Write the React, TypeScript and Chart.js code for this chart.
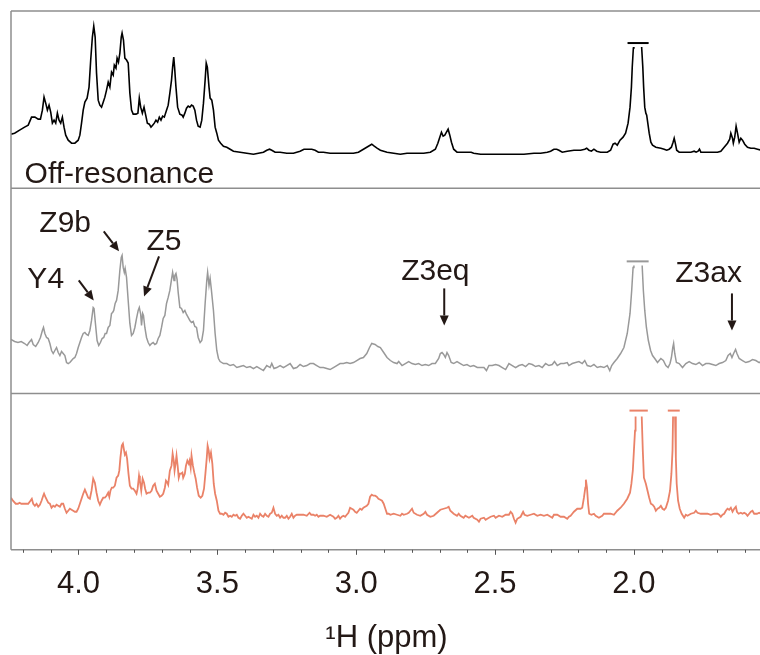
import React, { useEffect, useRef } from 'react';
import { Chart, registerables } from 'chart.js';

Chart.register(...registerables);

// Chemical-shift window (ppm), drawn high-to-low
const PPM_MIN = 1.546;
const PPM_MAX = 4.243;
const PPM_TICKS = [1.6, 1.7, 1.8, 1.9, 2.0, 2.1, 2.2, 2.3, 2.4, 2.5, 2.6, 2.7, 2.8, 2.9, 3.0, 3.1, 3.2, 3.3, 3.4, 3.5, 3.6, 3.7, 3.8, 3.9, 4.0, 4.1, 4.2];
const MAJOR_TICKS = [2.0, 2.5, 3.0, 3.5, 4.0];

// Vertical range (intensity units) of each stacked trace, top to bottom
const PANEL_TOP = [177, 205, 156];

// Reference spectrum [ppm, intensity]
const offResonance: [number, number][] = [
  [4.243, 54], [4.230, 55], [4.212, 58], [4.194, 61], [4.181, 63], [4.169, 71], [4.157, 71], [4.145, 69],
  [4.137, 69], [4.130, 78], [4.124, 91], [4.118, 85], [4.112, 78], [4.106, 83], [4.100, 76], [4.094, 65],
  [4.088, 68], [4.082, 65], [4.076, 75], [4.070, 68], [4.064, 65], [4.058, 71], [4.052, 61], [4.046, 53],
  [4.037, 48], [4.025, 45], [4.013, 45], [4.001, 48], [3.995, 53], [3.989, 65], [3.983, 78], [3.977, 86],
  [3.969, 90], [3.962, 101], [3.956, 128], [3.950, 151], [3.945, 162], [3.940, 151], [3.935, 115], [3.929, 88],
  [3.923, 83], [3.917, 81], [3.911, 86], [3.905, 91], [3.899, 98], [3.893, 106], [3.887, 101], [3.881, 116],
  [3.875, 113], [3.871, 123], [3.865, 120], [3.861, 130], [3.856, 126], [3.851, 135], [3.846, 151], [3.843, 155],
  [3.838, 148], [3.833, 130], [3.827, 128], [3.821, 125], [3.815, 95], [3.809, 78], [3.803, 74], [3.793, 74],
  [3.786, 75], [3.781, 90], [3.776, 81], [3.770, 75], [3.764, 81], [3.758, 73], [3.752, 65], [3.745, 64],
  [3.739, 61], [3.733, 63], [3.727, 65], [3.721, 68], [3.715, 66], [3.709, 71], [3.703, 68], [3.697, 72],
  [3.691, 71], [3.683, 78], [3.677, 83], [3.671, 95], [3.665, 108], [3.661, 121], [3.657, 131], [3.654, 121],
  [3.649, 101], [3.643, 81], [3.635, 74], [3.627, 73], [3.623, 71], [3.617, 75], [3.611, 80], [3.605, 82],
  [3.599, 81], [3.593, 83], [3.587, 82], [3.581, 78], [3.575, 68], [3.569, 62], [3.562, 61], [3.556, 68],
  [3.550, 85], [3.544, 108], [3.540, 125], [3.536, 121], [3.530, 101], [3.526, 90], [3.520, 88], [3.514, 78],
  [3.508, 61], [3.502, 55], [3.496, 48], [3.488, 45], [3.478, 42], [3.466, 41], [3.454, 39], [3.442, 37],
  [3.418, 36], [3.394, 35], [3.370, 34], [3.352, 35], [3.334, 36], [3.322, 38], [3.312, 39], [3.304, 38],
  [3.292, 36], [3.274, 36], [3.250, 35], [3.226, 35], [3.202, 37], [3.188, 39], [3.178, 39], [3.160, 39],
  [3.148, 38], [3.136, 36], [3.118, 36], [3.094, 35], [3.070, 35], [3.034, 35], [3.010, 35], [2.992, 36],
  [2.974, 39], [2.956, 42], [2.944, 44], [2.935, 42], [2.925, 40], [2.913, 38], [2.889, 36], [2.865, 35],
  [2.841, 34], [2.817, 35], [2.793, 35], [2.757, 35], [2.733, 36], [2.715, 39], [2.706, 45], [2.699, 51],
  [2.693, 56], [2.687, 52], [2.681, 53], [2.675, 56], [2.669, 59], [2.663, 53], [2.657, 46], [2.649, 39],
  [2.637, 36], [2.619, 36], [2.601, 36], [2.586, 36], [2.577, 35], [2.552, 34], [2.516, 34], [2.480, 34],
  [2.432, 34], [2.396, 34], [2.360, 35], [2.336, 35], [2.312, 36], [2.300, 37], [2.288, 39], [2.278, 39],
  [2.270, 38], [2.258, 36], [2.240, 37], [2.216, 38], [2.192, 38], [2.177, 39], [2.170, 40], [2.162, 38],
  [2.153, 37], [2.144, 39], [2.134, 37], [2.120, 36], [2.096, 36], [2.084, 38], [2.075, 44], [2.068, 45],
  [2.060, 43], [2.050, 48], [2.039, 51], [2.030, 55], [2.021, 65], [2.014, 81], [2.009, 101], [2.006, 121],
  [2.002, 140], [2.000, 148], [1.987, 600], [1.974, 148], [1.972, 140], [1.968, 121], [1.965, 101], [1.961, 81],
  [1.957, 75], [1.954, 73], [1.950, 65], [1.945, 55], [1.939, 46], [1.933, 43], [1.921, 41], [1.903, 40],
  [1.891, 39], [1.882, 38], [1.873, 39], [1.865, 41], [1.859, 46], [1.855, 50], [1.851, 45], [1.846, 38],
  [1.837, 36], [1.819, 36], [1.795, 36], [1.783, 37], [1.776, 36], [1.769, 37], [1.764, 39], [1.759, 36],
  [1.747, 36], [1.723, 36], [1.699, 36], [1.687, 37], [1.675, 41], [1.663, 45], [1.655, 49], [1.651, 55],
  [1.645, 50], [1.642, 45], [1.637, 51], [1.632, 62], [1.627, 55], [1.621, 46], [1.615, 50], [1.609, 48],
  [1.601, 44], [1.591, 41], [1.579, 40], [1.567, 40], [1.555, 39], [1.543, 38],
];

// Saturation-transfer trace, grey
const stdTraceA: [number, number][] = [
  [4.243, 54], [4.230, 52], [4.218, 51], [4.206, 52], [4.194, 50], [4.185, 48], [4.178, 51], [4.169, 54],
  [4.163, 49], [4.154, 47], [4.145, 51], [4.137, 56], [4.130, 63], [4.126, 66], [4.121, 60], [4.115, 56],
  [4.109, 55], [4.103, 50], [4.097, 43], [4.091, 40], [4.085, 43], [4.079, 46], [4.073, 41], [4.067, 38],
  [4.061, 42], [4.055, 40], [4.049, 38], [4.043, 31], [4.037, 30], [4.031, 31], [4.025, 33], [4.019, 35],
  [4.013, 36], [4.007, 40], [4.001, 46], [3.995, 51], [3.989, 56], [3.983, 60], [3.977, 61], [3.971, 59],
  [3.965, 58], [3.959, 63], [3.953, 73], [3.947, 86], [3.944, 85], [3.939, 70], [3.933, 53], [3.927, 48],
  [3.921, 51], [3.915, 55], [3.909, 56], [3.904, 60], [3.899, 60], [3.893, 66], [3.887, 68], [3.881, 80],
  [3.877, 81], [3.873, 83], [3.868, 90], [3.863, 93], [3.857, 103], [3.851, 123], [3.846, 136], [3.843, 138],
  [3.839, 126], [3.835, 121], [3.832, 125], [3.827, 116], [3.821, 93], [3.815, 70], [3.809, 58], [3.803, 60],
  [3.797, 66], [3.791, 75], [3.785, 83], [3.781, 86], [3.776, 79], [3.773, 68], [3.769, 80], [3.766, 78],
  [3.761, 66], [3.755, 56], [3.749, 51], [3.743, 48], [3.737, 50], [3.731, 51], [3.725, 49], [3.719, 50],
  [3.713, 55], [3.707, 58], [3.701, 66], [3.695, 75], [3.689, 78], [3.683, 90], [3.677, 96], [3.671, 103],
  [3.665, 114], [3.661, 121], [3.656, 113], [3.653, 118], [3.649, 120], [3.645, 114], [3.641, 101], [3.635, 86],
  [3.629, 85], [3.623, 81], [3.617, 83], [3.611, 79], [3.605, 76], [3.599, 73], [3.593, 71], [3.587, 72],
  [3.581, 67], [3.575, 66], [3.569, 56], [3.562, 51], [3.556, 53], [3.550, 63], [3.544, 90], [3.538, 113],
  [3.535, 121], [3.530, 108], [3.526, 115], [3.522, 105], [3.514, 83], [3.508, 60], [3.502, 43], [3.496, 35],
  [3.490, 32], [3.478, 30], [3.466, 30], [3.454, 28], [3.442, 29], [3.430, 26], [3.418, 27], [3.406, 28],
  [3.394, 26], [3.382, 27], [3.370, 25], [3.358, 27], [3.346, 25], [3.334, 23], [3.322, 28], [3.310, 26],
  [3.304, 30], [3.296, 25], [3.286, 26], [3.274, 28], [3.262, 26], [3.250, 28], [3.238, 30], [3.226, 25],
  [3.214, 26], [3.202, 29], [3.190, 27], [3.178, 28], [3.166, 30], [3.154, 30], [3.142, 28], [3.130, 26],
  [3.118, 26], [3.106, 25], [3.094, 24], [3.082, 26], [3.070, 28], [3.058, 30], [3.046, 30], [3.034, 31],
  [3.022, 30], [3.010, 31], [2.998, 33], [2.986, 35], [2.974, 36], [2.962, 40], [2.952, 46], [2.944, 50],
  [2.932, 49], [2.922, 47], [2.913, 46], [2.901, 41], [2.889, 36], [2.877, 33], [2.865, 31], [2.853, 30],
  [2.847, 32], [2.835, 28], [2.823, 30], [2.811, 32], [2.799, 30], [2.787, 29], [2.775, 30], [2.763, 28],
  [2.751, 29], [2.739, 28], [2.727, 30], [2.715, 30], [2.703, 35], [2.697, 40], [2.691, 41], [2.685, 39],
  [2.679, 36], [2.673, 41], [2.667, 38], [2.658, 31], [2.649, 30], [2.637, 32], [2.625, 30], [2.613, 28],
  [2.601, 29], [2.589, 27], [2.577, 28], [2.564, 26], [2.552, 26], [2.540, 26], [2.531, 23], [2.522, 28],
  [2.510, 28], [2.498, 29], [2.486, 28], [2.474, 26], [2.462, 24], [2.450, 30], [2.438, 28], [2.426, 26],
  [2.414, 28], [2.402, 29], [2.390, 27], [2.378, 30], [2.366, 29], [2.354, 27], [2.342, 28], [2.330, 26],
  [2.318, 30], [2.306, 28], [2.294, 29], [2.286, 32], [2.276, 28], [2.264, 30], [2.252, 30], [2.240, 31],
  [2.234, 28], [2.222, 30], [2.210, 31], [2.198, 32], [2.186, 30], [2.177, 33], [2.168, 28], [2.156, 27],
  [2.144, 29], [2.132, 26], [2.120, 27], [2.108, 26], [2.096, 28], [2.087, 23], [2.080, 28], [2.072, 31],
  [2.060, 35], [2.048, 40], [2.036, 46], [2.024, 60], [2.014, 80], [2.008, 103], [2.003, 126], [2.000, 143],
  [1.987, 600], [1.972, 143], [1.970, 126], [1.966, 103], [1.961, 83], [1.955, 66], [1.948, 53], [1.940, 43],
  [1.933, 38], [1.925, 35], [1.915, 31], [1.903, 35], [1.894, 33], [1.885, 28], [1.877, 26], [1.870, 30],
  [1.865, 36], [1.860, 46], [1.857, 50], [1.853, 40], [1.847, 31], [1.837, 30], [1.825, 26], [1.813, 30],
  [1.801, 32], [1.789, 30], [1.777, 29], [1.765, 31], [1.753, 28], [1.741, 30], [1.729, 30], [1.717, 29],
  [1.705, 28], [1.693, 30], [1.681, 31], [1.669, 33], [1.661, 38], [1.653, 40], [1.647, 36], [1.641, 40],
  [1.634, 44], [1.629, 40], [1.621, 35], [1.609, 33], [1.597, 31], [1.585, 32], [1.573, 34], [1.561, 33],
  [1.549, 31], [1.543, 32],
];

// Saturation-transfer trace, orange
const stdTraceB: [number, number][] = [
  [4.243, 52], [4.236, 49], [4.226, 46], [4.218, 46], [4.212, 47], [4.206, 46], [4.194, 46], [4.181, 46],
  [4.173, 49], [4.168, 51], [4.163, 46], [4.157, 44], [4.151, 46], [4.145, 43], [4.139, 45], [4.133, 49],
  [4.127, 54], [4.124, 56], [4.118, 52], [4.109, 47], [4.103, 46], [4.097, 42], [4.091, 44], [4.085, 43],
  [4.079, 45], [4.073, 44], [4.067, 43], [4.061, 46], [4.055, 46], [4.049, 41], [4.043, 37], [4.037, 39],
  [4.031, 41], [4.025, 40], [4.019, 39], [4.013, 38], [4.007, 38], [4.001, 41], [3.995, 46], [3.989, 51],
  [3.983, 56], [3.977, 60], [3.971, 56], [3.965, 52], [3.959, 51], [3.953, 59], [3.947, 71], [3.941, 67],
  [3.935, 57], [3.929, 49], [3.923, 45], [3.917, 49], [3.911, 52], [3.905, 52], [3.899, 54], [3.893, 57],
  [3.889, 53], [3.885, 59], [3.880, 62], [3.875, 62], [3.869, 64], [3.863, 72], [3.857, 74], [3.853, 79],
  [3.849, 92], [3.844, 104], [3.840, 106], [3.837, 101], [3.833, 95], [3.829, 97], [3.825, 91], [3.820, 76],
  [3.815, 64], [3.809, 61], [3.803, 61], [3.797, 59], [3.791, 56], [3.787, 61], [3.782, 74], [3.779, 69],
  [3.774, 59], [3.769, 71], [3.764, 67], [3.760, 61], [3.755, 56], [3.749, 57], [3.743, 57], [3.737, 59],
  [3.731, 64], [3.725, 66], [3.719, 59], [3.713, 56], [3.707, 53], [3.701, 54], [3.695, 56], [3.689, 62],
  [3.685, 69], [3.680, 67], [3.677, 65], [3.671, 79], [3.665, 84], [3.661, 96], [3.657, 89], [3.654, 79],
  [3.650, 87], [3.647, 94], [3.643, 84], [3.639, 72], [3.635, 76], [3.631, 76], [3.626, 77], [3.623, 72],
  [3.617, 76], [3.613, 84], [3.608, 89], [3.603, 86], [3.600, 89], [3.596, 82], [3.593, 94], [3.588, 84],
  [3.583, 77], [3.578, 71], [3.573, 62], [3.567, 54], [3.560, 52], [3.554, 54], [3.548, 61], [3.543, 76],
  [3.538, 92], [3.535, 104], [3.531, 99], [3.528, 91], [3.523, 97], [3.518, 86], [3.513, 66], [3.508, 56],
  [3.502, 49], [3.496, 39], [3.490, 36], [3.484, 36], [3.478, 35], [3.472, 37], [3.466, 36], [3.460, 33],
  [3.454, 34], [3.448, 33], [3.442, 35], [3.436, 34], [3.430, 35], [3.424, 32], [3.418, 31], [3.412, 34],
  [3.406, 36], [3.400, 34], [3.394, 32], [3.388, 33], [3.382, 32], [3.376, 31], [3.370, 35], [3.364, 33],
  [3.358, 34], [3.352, 32], [3.346, 36], [3.340, 34], [3.334, 33], [3.328, 36], [3.322, 34], [3.316, 33],
  [3.310, 36], [3.304, 37], [3.298, 42], [3.292, 36], [3.286, 34], [3.280, 35], [3.274, 32], [3.268, 34],
  [3.262, 32], [3.256, 32], [3.250, 34], [3.244, 31], [3.238, 33], [3.232, 36], [3.226, 32], [3.220, 34],
  [3.214, 35], [3.202, 35], [3.190, 35], [3.178, 34], [3.168, 37], [3.162, 35], [3.154, 35], [3.148, 34],
  [3.142, 35], [3.136, 33], [3.130, 34], [3.118, 34], [3.106, 33], [3.094, 35], [3.082, 33], [3.076, 31],
  [3.070, 32], [3.064, 34], [3.058, 31], [3.052, 33], [3.046, 34], [3.040, 33], [3.034, 35], [3.028, 37],
  [3.022, 42], [3.016, 41], [3.010, 40], [3.004, 38], [2.998, 37], [2.992, 39], [2.986, 41], [2.980, 40],
  [2.974, 42], [2.968, 43], [2.962, 44], [2.956, 46], [2.950, 53], [2.944, 55], [2.938, 54], [2.932, 54],
  [2.926, 53], [2.920, 51], [2.913, 50], [2.907, 49], [2.901, 46], [2.895, 41], [2.889, 36], [2.883, 36],
  [2.877, 35], [2.865, 36], [2.853, 35], [2.841, 34], [2.835, 36], [2.829, 35], [2.817, 36], [2.811, 37],
  [2.805, 39], [2.799, 41], [2.793, 37], [2.781, 35], [2.769, 34], [2.757, 36], [2.751, 38], [2.745, 35],
  [2.733, 33], [2.721, 34], [2.709, 37], [2.697, 40], [2.685, 41], [2.673, 42], [2.667, 43], [2.661, 39],
  [2.649, 36], [2.637, 34], [2.631, 36], [2.625, 34], [2.613, 32], [2.607, 34], [2.594, 32], [2.582, 34],
  [2.577, 32], [2.564, 30], [2.558, 28], [2.552, 31], [2.540, 32], [2.534, 30], [2.528, 31], [2.516, 33],
  [2.504, 34], [2.498, 32], [2.486, 34], [2.474, 33], [2.462, 35], [2.450, 35], [2.444, 38], [2.438, 36],
  [2.432, 31], [2.426, 27], [2.420, 31], [2.408, 33], [2.399, 38], [2.394, 35], [2.384, 34], [2.372, 35],
  [2.360, 36], [2.348, 34], [2.336, 35], [2.324, 34], [2.312, 35], [2.300, 33], [2.294, 32], [2.288, 35],
  [2.276, 35], [2.264, 33], [2.252, 33], [2.240, 31], [2.234, 33], [2.228, 34], [2.222, 36], [2.216, 38],
  [2.204, 41], [2.192, 41], [2.186, 42], [2.180, 52], [2.175, 62], [2.173, 70], [2.169, 62], [2.165, 46],
  [2.161, 36], [2.153, 35], [2.144, 36], [2.138, 34], [2.126, 32], [2.114, 34], [2.108, 36], [2.096, 36],
  [2.084, 36], [2.072, 35], [2.060, 39], [2.048, 42], [2.036, 46], [2.024, 51], [2.014, 57], [2.009, 66],
  [2.004, 79], [2.000, 99], [1.996, 119], [1.994, 134], [1.983, 600], [1.972, 134], [1.968, 99], [1.964, 72],
  [1.957, 66], [1.951, 59], [1.945, 52], [1.939, 46], [1.933, 45], [1.927, 43], [1.921, 39], [1.915, 41],
  [1.909, 42], [1.903, 44], [1.897, 41], [1.891, 40], [1.885, 42], [1.877, 49], [1.870, 59], [1.865, 76],
  [1.861, 99], [1.859, 134], [1.855, 600], [1.852, 134], [1.849, 92], [1.846, 66], [1.841, 49], [1.835, 41],
  [1.828, 36], [1.819, 32], [1.813, 35], [1.807, 34], [1.795, 36], [1.783, 37], [1.777, 39], [1.771, 37],
  [1.759, 36], [1.747, 36], [1.735, 36], [1.723, 35], [1.711, 36], [1.699, 36], [1.693, 35], [1.687, 33],
  [1.681, 35], [1.675, 36], [1.669, 39], [1.663, 41], [1.657, 40], [1.651, 42], [1.645, 38], [1.639, 41],
  [1.633, 43], [1.629, 38], [1.623, 36], [1.615, 37], [1.609, 36], [1.603, 37], [1.597, 36], [1.591, 34],
  [1.585, 36], [1.579, 38], [1.573, 39], [1.567, 36], [1.557, 36], [1.549, 37], [1.543, 36],
];

const TRACE_COLORS = ['#000000', '#999999', '#ea8268'];
const TRACE_WIDTHS = [1.6, 1.5, 1.8];

// Off-scale peaks: intensity where the trace is cut, and the marker bar above it
const CUT_LEVELS = [141, 128, 133];
const TRUNCATION_BARS: { panel: number; from: number; to: number; level: number }[] = [
  { panel: 0, from: 2.023, to: 1.947, level: 145 },
  { panel: 1, from: 2.026, to: 1.947, level: 132 },
  { panel: 2, from: 2.016, to: 1.950, level: 139 },
  { panel: 2, from: 1.878, to: 1.835, level: 139 },
];

// Assignments on the grey trace: label anchor and arrow (ppm, intensity)
const ASSIGNMENTS: { text: string; ppm: number; base: number; arrow: [number, number, number, number] }[] = [
  { text: 'Z9b', ppm: 4.048, base: 161, arrow: [3.909, 162, 3.854, 142] },
  { text: 'Y4', ppm: 4.118, base: 105, arrow: [3.999, 113, 3.945, 93] },
  { text: 'Z5', ppm: 3.692, base: 143, arrow: [3.710, 137, 3.764, 97] },
  { text: 'Z3eq', ppm: 2.715, base: 113, arrow: [2.683, 105, 2.683, 68] },
  { text: 'Z3ax', ppm: 1.731, base: 111, arrow: [1.647, 100, 1.647, 63] },
];

const PANEL_TITLE = 'Off-resonance';
const AXIS_TITLE = '¹H (ppm)';

const FONT = "'Liberation Sans', Arial, Helvetica, sans-serif";
const TEXT_COLOR = '#231815';
const FRAME_COLOR = '#8e8e8e';
// Axis ids per trace, top to bottom
const AXIS_IDS = ['yTop', 'yMid', 'yBot'];

function drawArrow(ctx: CanvasRenderingContext2D, x1: number, y1: number, x2: number, y2: number) {
  const ang = Math.atan2(y2 - y1, x2 - x1);
  const head = 10;
  const hw = 4.5;
  const bx = x2 - head * Math.cos(ang);
  const by = y2 - head * Math.sin(ang);
  ctx.beginPath();
  ctx.moveTo(x1, y1);
  ctx.lineTo(bx, by);
  ctx.stroke();
  ctx.beginPath();
  ctx.moveTo(x2, y2);
  ctx.lineTo(bx + hw * Math.sin(ang), by - hw * Math.cos(ang));
  ctx.lineTo(bx - hw * Math.sin(ang), by + hw * Math.cos(ang));
  ctx.closePath();
  ctx.fill();
}

const spectrumPlugin = {
  id: 'spectrumDecor',
  // hide the tops of off-scale peaks above their cut level
  beforeDatasetDraw(chart: any, args: any) {
    const idx = args.index;
    const yScale = chart.scales[AXIS_IDS[idx]];
    const x = chart.scales.x;
    const area = chart.chartArea;
    const cutY = yScale.getPixelForValue(CUT_LEVELS[idx]);
    const ctx = chart.ctx;
    ctx.save();
    ctx.beginPath();
    ctx.rect(area.left, yScale.top, area.right - area.left, yScale.bottom - yScale.top);
    for (const bar of TRUNCATION_BARS) {
      if (bar.panel !== idx) continue;
      const xa = x.getPixelForValue(bar.from);
      const xb = x.getPixelForValue(bar.to);
      ctx.rect(Math.min(xa, xb), yScale.top, Math.abs(xb - xa), cutY - yScale.top);
    }
    ctx.clip('evenodd');
  },
  afterDatasetDraw(chart: any) {
    chart.ctx.restore();
  },
  afterDraw(chart: any) {
    const ctx: CanvasRenderingContext2D = chart.ctx;
    const area = chart.chartArea;
    const x = chart.scales.x;
    ctx.save();

    // frame: top, left, panel separators, baseline axis
    ctx.strokeStyle = FRAME_COLOR;
    ctx.lineWidth = 1.5;
    ctx.beginPath();
    ctx.moveTo(area.left, area.top);
    ctx.lineTo(area.right, area.top);
    ctx.moveTo(area.left, area.top);
    ctx.lineTo(area.left, area.bottom);
    for (let i = 1; i < AXIS_IDS.length; i++) {
      const t = chart.scales[AXIS_IDS[i]].top;
      ctx.moveTo(area.left, t);
      ctx.lineTo(area.right, t);
    }
    ctx.moveTo(area.left, area.bottom);
    ctx.lineTo(area.right, area.bottom);
    ctx.stroke();

    // tick marks
    ctx.strokeStyle = '#555555';
    ctx.lineWidth = 1;
    ctx.beginPath();
    for (const v of PPM_TICKS) {
      const px = Math.round(x.getPixelForValue(v)) + 0.5;
      const major = MAJOR_TICKS.some((m) => Math.abs(m - v) < 1e-6);
      ctx.moveTo(px, area.bottom);
      ctx.lineTo(px, area.bottom + (major ? 5 : 3));
    }
    ctx.stroke();

    // truncation bars
    for (const bar of TRUNCATION_BARS) {
      const ys = chart.scales[AXIS_IDS[bar.panel]];
      const py = ys.getPixelForValue(bar.level);
      ctx.strokeStyle = TRACE_COLORS[bar.panel];
      ctx.lineWidth = 2;
      ctx.beginPath();
      ctx.moveTo(x.getPixelForValue(bar.from), py);
      ctx.lineTo(x.getPixelForValue(bar.to), py);
      ctx.stroke();
    }

    // panel title
    const yTop = chart.scales.yTop;
    ctx.fillStyle = TEXT_COLOR;
    ctx.font = `30px ${FONT}`;
    ctx.textAlign = 'left';
    ctx.textBaseline = 'alphabetic';
    ctx.fillText(PANEL_TITLE, x.getPixelForValue(4.194), yTop.getPixelForValue(5));

    // assignments with arrows
    const yMid = chart.scales.yMid;
    ctx.font = `30px ${FONT}`;
    ctx.textAlign = 'center';
    ctx.strokeStyle = TEXT_COLOR;
    ctx.lineWidth = 2;
    for (const a of ASSIGNMENTS) {
      ctx.fillText(a.text, x.getPixelForValue(a.ppm), yMid.getPixelForValue(a.base));
      const [p1, i1, p2, i2] = a.arrow;
      drawArrow(ctx, x.getPixelForValue(p1), yMid.getPixelForValue(i1), x.getPixelForValue(p2), yMid.getPixelForValue(i2));
    }

    // axis title
    ctx.font = `31px ${FONT}`;
    ctx.textAlign = 'center';
    ctx.fillText(AXIS_TITLE, (area.left + area.right) / 2 + 1, chart.height - 8);
    ctx.restore();
  },
};

export default function App() {
  const canvasRef = useRef<HTMLCanvasElement | null>(null);

  useEffect(() => {
    const canvas = canvasRef.current;
    if (!canvas) return;
    const series = [offResonance, stdTraceA, stdTraceB];
    const panelAxis = (i: number) => ({
      type: 'linear',
      position: 'left',
      stack: 'panels',
      stackWeight: PANEL_TOP[i],
      min: 0,
      max: PANEL_TOP[i],
      display: false,
    });
    const chart = new Chart(canvas, {
      type: 'line',
      data: {
        datasets: series.map((s, i) => ({
          data: s.map(([p, v]) => ({ x: p, y: v })),
          yAxisID: AXIS_IDS[i],
          borderColor: TRACE_COLORS[i],
          borderWidth: TRACE_WIDTHS[i],
          pointRadius: 0,
          tension: 0,
          fill: false,
        })),
      },
      options: {
        responsive: false,
        animation: false,
        devicePixelRatio: 1,
        events: [],
        layout: { padding: { top: 11, left: 11, right: 0, bottom: 36 } },
        plugins: { legend: { display: false }, tooltip: { enabled: false } },
        scales: {
          x: {
            type: 'linear',
            position: 'bottom',
            reverse: true,
            min: PPM_MIN,
            max: PPM_MAX,
            afterBuildTicks: (scale: any) => {
              scale.ticks = PPM_TICKS.map((v) => ({ value: v }));
            },
            ticks: {
              autoSkip: false,
              maxRotation: 0,
              padding: 16,
              color: TEXT_COLOR,
              font: { family: FONT, size: 31 },
              callback: (v: any) => (MAJOR_TICKS.some((m) => Math.abs(m - Number(v)) < 1e-6) ? Number(v).toFixed(1) : ''),
            },
            grid: { display: false, drawTicks: false },
            border: { display: false },
          },
          // stacked vertically; the last-declared axis lands on top
          yBot: panelAxis(2),
          yMid: panelAxis(1),
          yTop: panelAxis(0),
        },
      } as any,
      plugins: [spectrumPlugin],
    });
    return () => chart.destroy();
  }, []);

  return (
    <div style={{ position: 'fixed', left: 0, top: 0, width: 760, height: 655, background: '#ffffff' }}>
      <canvas ref={canvasRef} width={760} height={655} style={{ width: 760, height: 655, display: 'block' }} />
    </div>
  );
}
